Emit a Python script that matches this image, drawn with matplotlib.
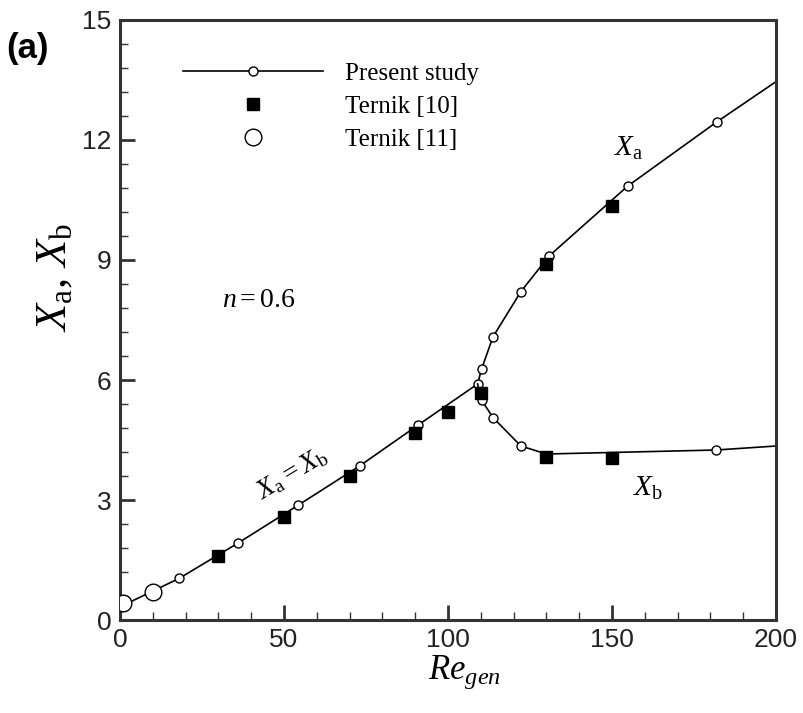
import matplotlib
matplotlib.use("Agg")
import matplotlib.pyplot as plt
from matplotlib.lines import Line2D

# 字体设置
plt.rcParams['mathtext.fontset'] = 'custom'
plt.rcParams['mathtext.rm'] = 'Liberation Serif'
plt.rcParams['mathtext.it'] = 'Liberation Serif:italic'
plt.rcParams['font.family'] = 'Liberation Sans'

# Present study: 上支 (含 Xa = Xb 段)
re_upper = [0, 18, 36.1, 54.4, 73, 90.8, 109, 110.2, 113.7, 122.2, 130.8, 154.8, 181.9, 200]
x_upper = [0.33, 1.04, 1.93, 2.875, 3.85, 4.87, 5.9, 6.27, 7.08, 8.21, 9.1, 10.85, 12.45, 13.46]
upper_marks = list(range(13))
# Present study: 下支 Xb
re_lower = [109, 110.2, 113.7, 122.2, 130, 181.7, 200]
x_lower = [5.9, 5.5, 5.06, 4.35, 4.15, 4.25, 4.35]
lower_marks = [1, 2, 3, 5]
# Ternik [10]
re_t10 = [30, 50, 70, 90, 100, 110, 130, 130, 150, 150]
x_t10 = [1.6, 2.57, 3.6, 4.68, 5.19, 5.68, 8.89, 4.08, 10.35, 4.04]
# Ternik [11]
re_t11 = [1, 10]
x_t11 = [0.42, 0.71]

fig = plt.figure(figsize=(8.04, 7.13), dpi=100)
ax = fig.add_axes([0.1493, 0.1304, 0.816, 0.8416])

line_kw = dict(color='black', lw=1.2, marker='o', ms=6.5, mfc='white', mec='black', mew=1.0)
ax.plot(re_upper, x_upper, markevery=upper_marks, zorder=2, **line_kw)
ax.plot(re_lower, x_lower, markevery=lower_marks, zorder=2, **line_kw)
ax.plot(re_t10, x_t10, ls='none', marker='s', ms=8.5, color='black', zorder=3)
ax.plot(re_t11, x_t11, ls='none', marker='o', ms=12, mfc='white', mec='black', mew=1.0, zorder=3)

ax.set_xlim(0, 200)
ax.set_ylim(0, 15)
ax.set_xticks([0, 50, 100, 150, 200])
ax.set_xticks(range(0, 201, 10), minor=True)
ax.set_yticks([0, 3, 6, 9, 12, 15])
ax.set_yticks([i * 0.6 for i in range(26)], minor=True)
ax.tick_params(which='both', direction='in', top=False, right=False, colors='#333333', labelcolor='#222222')
ax.tick_params(which='major', length=11, width=2, labelsize=19, pad=6)
ax.tick_params(which='minor', length=6, width=1)
for s in ax.spines.values():
    s.set_linewidth(2.2)
    s.set_color('#333333')

# 坐标轴标题
ax.set_xlabel(r'$\mathit{Re}_{\mathit{gen}}$', fontsize=25)
ax.xaxis.set_label_coords(0.525, -0.055, transform=ax.transAxes)
ax.xaxis.label.set_va('top')
ax.set_ylabel(r'$X_{\mathrm{a}}\mathrm{,}\ X_{\mathrm{b}}$', fontsize=32)
ax.yaxis.set_label_coords(-0.07, 0.57)

# 注释文字
ax.text(52.5, 3.65, r'$X_{\mathrm{a}} = X_{\mathrm{b}}$', fontsize=20, rotation=31,
        ha='center', va='center')
ax.text(155, 11.8, r'$X_{\mathrm{a}}$', fontsize=21, ha='center', va='center')
ax.text(161, 3.3, r'$X_{\mathrm{b}}$', fontsize=21, ha='center', va='center')
ax.text(31, 8.0, r'$n = \mathrm{0.6}$', fontsize=20, ha='left', va='center')

handles = [
    Line2D([], [], **line_kw),
    Line2D([], [], ls='none', marker='s', ms=8.5, color='black'),
    Line2D([], [], ls='none', marker='o', ms=12, mfc='white', mec='black', mew=1.0),
]
labels = ['Present study', 'Ternik [10]', 'Ternik [11]']
ax.legend(handles, labels, loc='upper left', bbox_to_anchor=(0.061, 0.967), frameon=False,
          handlelength=5.6, numpoints=1, labelspacing=0.42, handletextpad=0.9,
          prop={'family': 'Liberation Serif', 'size': 18})

fig.text(0.008, 0.918, '(a)', fontsize=25, fontweight='bold')

fig.savefig('out.png', dpi=100)
